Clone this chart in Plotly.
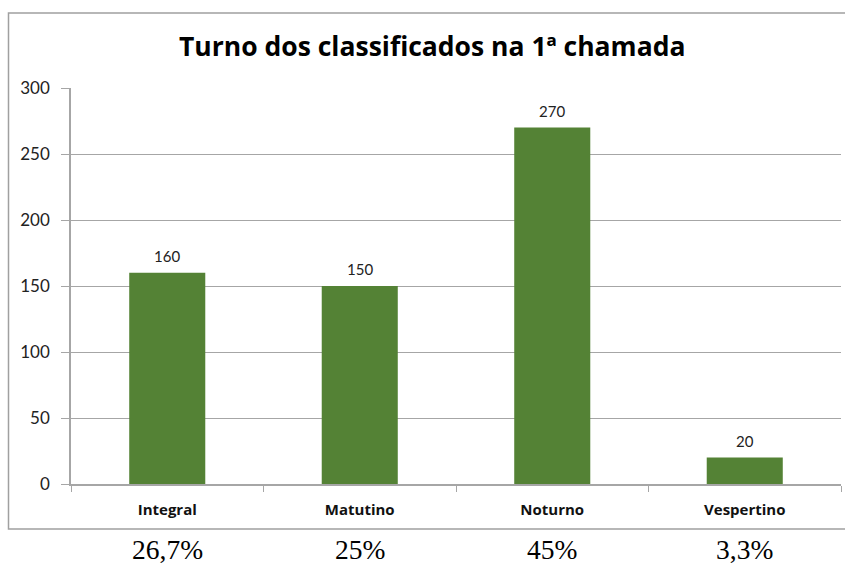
import plotly.graph_objects as go

categories = ["Integral", "Matutino", "Noturno", "Vespertino"]
values = [160, 150, 270, 20]
percents = ["26,7%", "25%", "45%", "3,3%"]
y_ticks = [0, 50, 100, 150, 200, 250, 300]
title = "Turno dos classificados na 1ª chamada"

W, H = 845, 565
L, R, T, B = 71, 4, 88, 81
pw, ph = W - L - R, H - T - B

def px_x(x):
    return (x - L) / pw

def px_y(y):
    return (H - B - y) / ph

fig = go.Figure()
fig.add_trace(go.Bar(
    x=categories, y=values,
    marker=dict(color="#548235", line=dict(width=0)),
    width=0.395,
    hoverinfo="x+y",
))

for c, v in zip(categories, values):
    fig.add_annotation(x=c, y=v, xref="x", yref="y",
                       xanchor="center", yanchor="middle", yshift=17,
                       text=str(v), showarrow=False,
                       font=dict(family="Lato", size=15, color="#222222"))

for c, p in zip(categories, percents):
    fig.add_annotation(x=c, y=px_y(549), xref="x", yref="paper",
                       xanchor="center", yanchor="middle",
                       text=p, showarrow=False,
                       font=dict(family="Liberation Serif, Times New Roman, serif", size=27.5, color="#000000"))

fig.add_annotation(x=px_x(432), y=px_y(46), xref="paper", yref="paper",
                   xanchor="center", yanchor="middle",
                   text="<b>" + title + "</b>", showarrow=False,
                   font=dict(family="Open Sans", size=26.5, color="#000000"))

fig.add_shape(type="rect", xref="paper", yref="paper",
              x0=px_x(8.5), x1=px_x(860), y0=px_y(13), y1=px_y(529),
              line=dict(color="#a0a0a0", width=1.5), layer="below")

fig.update_layout(
    width=W, height=H,
    margin=dict(l=L, r=R, t=T, b=B, autoexpand=False),
    paper_bgcolor="white", plot_bgcolor="white",
    showlegend=False,
    xaxis=dict(
        showline=True, linecolor="#a6a6a6", linewidth=1.5,
        ticks="outside", tickson="boundaries", ticklen=6, tickcolor="#a6a6a6",
        tickfont=dict(family="Open Sans", size=15, color="#111111"),
        tickprefix="<b>", ticksuffix="</b>",
        ticklabelstandoff=11,
        showgrid=False, automargin=False,
    ),
    yaxis=dict(
        range=[0, 300], tickvals=y_ticks,
        showline=True, linecolor="#a6a6a6", linewidth=1.5,
        ticks="outside", ticklen=8, tickcolor="#a6a6a6",
        showgrid=True, gridcolor="#a6a6a6", gridwidth=1,
        tickfont=dict(family="Lato", size=17, color="#222222"),
        ticklabelstandoff=8,
        zeroline=False, automargin=False,
    ),
)

fig.write_html("out.html", config={"displayModeBar": False},
               post_script="document.body.style.margin='0';document.body.style.overflow='hidden';")
